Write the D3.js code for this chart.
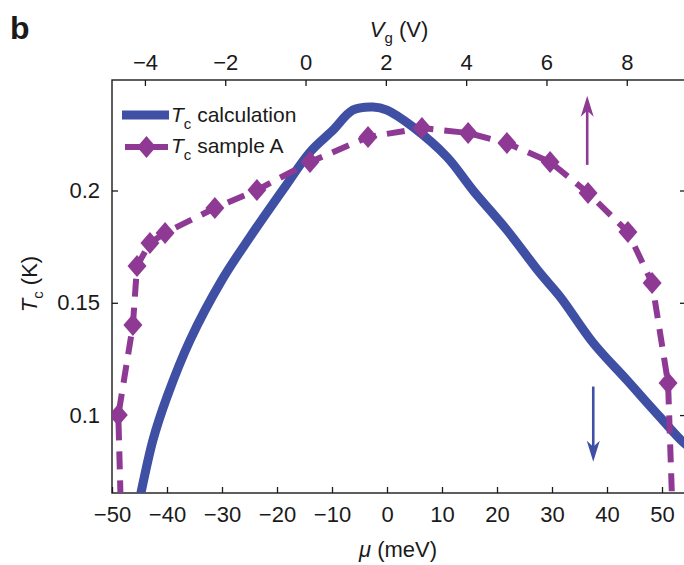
<!DOCTYPE html>
<html>
<head>
<meta charset="utf-8">
<script src="https://cdn.jsdelivr.net/npm/d3@7"></script>
<style>
  html, body { margin: 0; padding: 0; background: #fff; }
  svg { display: block; }
  text { font-family: "Liberation Sans", Arial, Helvetica, sans-serif; fill: #1a1a1a; }
</style>
</head>
<body>
<svg id="chart" width="684" height="565"></svg>
<script>
// ---- data ----
const muTicks = [-50, -40, -30, -20, -10, 0, 10, 20, 30, 40, 50];
const vgTicks = [-4, -2, 0, 2, 4, 6, 8];
const tcTicks = [0.1, 0.15, 0.2];

// T_c calculation (blue solid)
const calcMu = [-45.6, -44.9, -42.55, -40.0, -35.8, -30.0, -24.9, -18.55, -14.0, -9.8, -6.2, -2.55, 0.0, 4.7, 10.9, 15.6, 21.8, 27.8, 31.5, 37.5, 43.6, 49.6, 54.0, 56.9];
const calcTc = [0.0555, 0.0635, 0.0889, 0.1081, 0.1334, 0.1602, 0.1793, 0.2016, 0.2171, 0.2269, 0.2358, 0.2372, 0.2358, 0.2283, 0.2149, 0.2002, 0.1824, 0.1633, 0.1526, 0.1321, 0.1156, 0.0992, 0.0876, 0.0822];

// T_c sample A (purple dashed with diamonds)
const sampleMu = [-48.3, -48.85, -46.2, -45.45, -43.1, -40.35, -31.3, -23.65, -14.0, -3.45, 6.35, 14.75, 21.8, 29.65, 36.55, 43.8, 48.2, 51.1, 52.0];
const sampleTc = [0.050, 0.1000, 0.1401, 0.1664, 0.1766, 0.1811, 0.1922, 0.2002, 0.2127, 0.2238, 0.2278, 0.2256, 0.2211, 0.2127, 0.1989, 0.1815, 0.1588, 0.1143, 0.050];
// markers are shown only for measured points that lie in range
const sampleMarker = [false, true, true, true, true, true, true, true, true, true, true, true, true, true, true, true, true, true, false];

// arrows: [mu, tcFrom, tcTo, series]
const arrowMu = [36.4, 37.5];
const arrowFrom = [0.2114, 0.1127];
const arrowTo = [0.2422, 0.0792];
const arrowSeries = ["sample", "calc"];

// ---- layout ----
const L = 112, R = 685, T = 80, B = 493;
const blue = "#3f4fa3";
const purple = "#8e3a95";

const svg = d3.select("#chart");

const x = d3.scaleLinear().domain([-50, 54.18]).range([L, R]);
const xTop = d3.scaleLinear().domain([-4.82, 9.45]).range([L, R]);
const y = d3.scaleLinear().domain([0.0653, 0.2492]).range([B, T]);

svg.append("defs").append("clipPath").attr("id", "clip")
  .append("rect").attr("x", L).attr("y", T).attr("width", R - L).attr("height", B - T);

// ---- axes ----
const fs = 22;
function styleAxis(g) {
  g.select(".domain").remove();
  g.selectAll(".tick line").attr("stroke", "#1a1a1a").attr("stroke-width", 1.3);
  g.selectAll(".tick text").attr("font-size", fs).attr("fill", "#1a1a1a")
    .attr("font-family", "'Liberation Sans', Arial, Helvetica, sans-serif");
}

svg.append("g").attr("transform", `translate(0,${B})`)
  .call(d3.axisBottom(x).tickValues(muTicks).tickSizeInner(-6).tickSizeOuter(0).tickPadding(13))
  .call(styleAxis);

svg.append("g").attr("transform", `translate(0,${T})`)
  .call(d3.axisTop(xTop).tickValues(vgTicks).tickSizeInner(-6).tickSizeOuter(0).tickPadding(10))
  .call(styleAxis);

svg.append("g").attr("transform", `translate(${L},0)`)
  .call(d3.axisLeft(y).tickValues(tcTicks).tickFormat(d3.format("~g")).tickSizeInner(-6).tickSizeOuter(0).tickPadding(12))
  .call(styleAxis);

svg.append("g").attr("transform", `translate(${R},0)`)
  .call(d3.axisRight(y).tickValues(tcTicks).tickFormat("").tickSizeInner(-5).tickSizeOuter(0))
  .call(styleAxis);

// frame
svg.append("rect").attr("x", L).attr("y", T).attr("width", R - L).attr("height", B - T)
  .attr("fill", "none").attr("stroke", "#1a1a1a").attr("stroke-width", 1.4);

// ---- series ----
const plot = svg.append("g").attr("clip-path", "url(#clip)");

const calcData = calcMu.map((m, i) => [m, calcTc[i]]);
const sampleData = sampleMu.map((m, i) => [m, sampleTc[i], sampleMarker[i]]);

const line = d3.line().x(d => x(d[0])).y(d => y(d[1]));
const smoothLine = d3.line().x(d => x(d[0])).y(d => y(d[1])).curve(d3.curveCatmullRom.alpha(0.5));

plot.append("path").datum(calcData).attr("d", smoothLine)
  .attr("fill", "none").attr("stroke", blue).attr("stroke-width", 9)
  .attr("stroke-linejoin", "round");

plot.append("path").datum(sampleData).attr("d", line)
  .attr("fill", "none").attr("stroke", purple).attr("stroke-width", 6)
  .attr("stroke-dasharray", "18,11");

function diamond(cx, cy, w, h) {
  return `M${cx},${cy - h}L${cx + w},${cy}L${cx},${cy + h}L${cx - w},${cy}Z`;
}

plot.selectAll("path.mk").data(sampleData.filter(d => d[2])).enter()
  .append("path").attr("class", "mk")
  .attr("d", d => diamond(x(d[0]), y(d[1]), 9.5, 11))
  .attr("fill", purple);

// ---- arrows ----
arrowMu.forEach((m, i) => {
  const col = arrowSeries[i] === "calc" ? blue : purple;
  const ax = x(m), y0 = y(arrowFrom[i]), y1 = y(arrowTo[i]);
  const dir = y1 < y0 ? -1 : 1;
  const headLen = 21, hw = 6.5;
  svg.append("line").attr("x1", ax).attr("x2", ax).attr("y1", y0).attr("y2", y1 - dir * headLen * 0.7)
    .attr("stroke", col).attr("stroke-width", 2.6);
  svg.append("path")
    .attr("d", `M${ax},${y1}L${ax + hw},${y1 - dir * headLen}L${ax},${y1 - dir * headLen * 0.72}L${ax - hw},${y1 - dir * headLen}Z`)
    .attr("fill", col);
});

// ---- legend ----
const lg = svg.append("g");
lg.append("line").attr("x1", 122).attr("x2", 169).attr("y1", 115).attr("y2", 115)
  .attr("stroke", blue).attr("stroke-width", 9);
lg.append("line").attr("x1", 125).attr("x2", 168).attr("y1", 147).attr("y2", 147)
  .attr("stroke", purple).attr("stroke-width", 6).attr("stroke-dasharray", "16,11");
lg.append("path").attr("d", diamond(146.5, 147, 9.5, 11)).attr("fill", purple);

const legendTexts = ["calculation", "sample A"];
legendTexts.forEach((t, i) => {
  const tx = lg.append("text").attr("x", 171).attr("y", 122 + i * 31).attr("font-size", 21);
  tx.append("tspan").attr("font-style", "italic").text("T");
  tx.append("tspan").attr("font-size", 15).attr("dy", 7).text("c");
  tx.append("tspan").attr("dy", -7).text(" " + t);
});

// ---- titles ----
const xt = svg.append("text").attr("x", 398).attr("y", 557).attr("text-anchor", "middle").attr("font-size", fs);
xt.append("tspan").attr("font-style", "italic").text("μ");
xt.append("tspan").text(" (meV)");

const vt = svg.append("text").attr("x", 399).attr("y", 37).attr("text-anchor", "middle").attr("font-size", fs);
vt.append("tspan").attr("font-style", "italic").text("V");
vt.append("tspan").attr("font-size", 15).attr("dy", 6).text("g");
vt.append("tspan").attr("dy", -6).text(" (V)");

const yt = svg.append("text").attr("transform", "translate(37,284) rotate(-90)").attr("text-anchor", "middle").attr("font-size", fs);
yt.append("tspan").attr("font-style", "italic").text("T");
yt.append("tspan").attr("font-size", 15).attr("dy", 6).text("c");
yt.append("tspan").attr("dy", -6).text(" (K)");

svg.append("text").attr("x", 10).attr("y", 39).attr("font-size", 32).attr("font-weight", "bold").text("b");
</script>
</body>
</html>
